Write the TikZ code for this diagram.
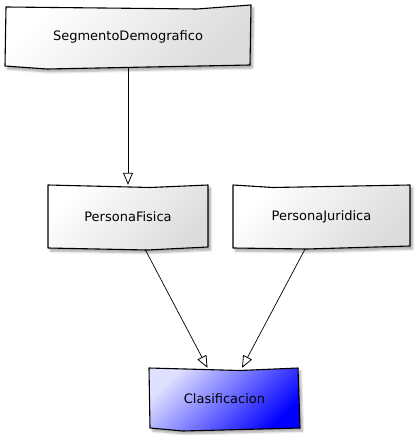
\documentclass[tikz,border=0pt]{standalone}
\usepackage{fontspec}
\setmainfont{DejaVu Sans}
\usetikzlibrary{arrows.meta,shadows.blur,calc}
\begin{document}
\begin{tikzpicture}[x=1pt,y=-1pt,
  boxtext/.style={inner sep=0pt, font=\fontsize{13}{15}\selectfont, text=black},
  outline/.style={draw=black, line width=1.1pt, line join=round,
    blur shadow={shadow xshift=2.5pt, shadow yshift=-3pt, shadow opacity=35, shadow blur steps=6}},
  graybox/.style={outline, left color=white, right color=black!14, shading angle=45},
  bluebox/.style={outline, left color=blue!12, right color=blue, shading angle=45},
  conn/.style={draw=black, line width=0.7pt, -{Triangle[open, length=12pt, width=10pt, line width=0.8pt]}}
]
\useasboundingbox (0,0) rectangle (416,435);
% shapes
\path[graybox] (6,7) -- (197,9) -- (251,5) -- (250,65) -- (47,69) -- (5,66) -- cycle;
\path[graybox] (48,185) -- (150,187.5) -- (208,185) -- (208,247) -- (147,250) -- (48,248) -- cycle;
\path[graybox] (233,185) -- (273,187.5) -- (410,185) -- (410,246) -- (307,249) -- (233,248) -- cycle;
\path[bluebox] (149,368) -- (240,370.5) -- (298,368) -- (300,428) -- (183,431) -- (150,428) -- cycle;
% nodes
\node[boxtext, minimum width=245pt, minimum height=62pt] (seg) at (128,37) {SegmentoDemografico};
\node[boxtext, minimum width=160pt, minimum height=64pt] (pf) at (128,217) {PersonaFisica};
\node[boxtext, minimum width=177pt, minimum height=64pt] (pj) at (321.5,217) {PersonaJuridica};
\node[boxtext, minimum width=151pt, minimum height=62pt] (cl) at (224.5,399) {Clasificacion};
% connectors
\draw[conn] (seg.south) -- (pf.north);
\draw[conn] ([xshift=17pt]pf.south) -- ([xshift=-17pt]cl.north);
\draw[conn] ([xshift=-16.5pt]pj.south) -- ([xshift=17.5pt]cl.north);
\end{tikzpicture}
\end{document}
